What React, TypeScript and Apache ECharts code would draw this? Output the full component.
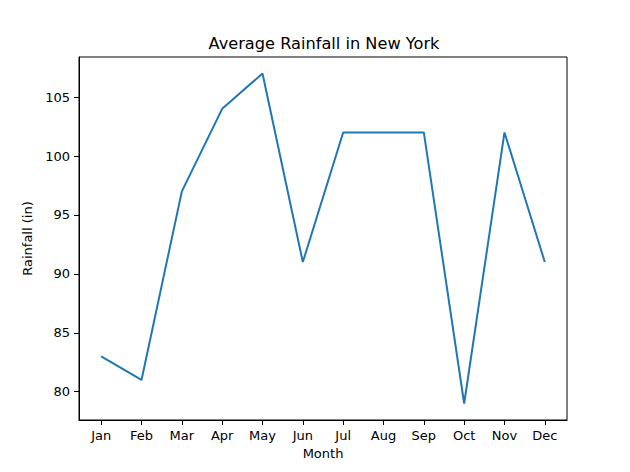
import React, { useEffect, useRef } from "react";
import * as echarts from "echarts";

const months = ["Jan", "Feb", "Mar", "Apr", "May", "Jun", "Jul", "Aug", "Sep", "Oct", "Nov", "Dec"];
const rainfall = [83, 81, 97, 104, 107, 91, 102, 102, 102, 79, 102, 91];
const yTicks = [80, 85, 90, 95, 100, 105];

export default function App() {
  const ref = useRef<HTMLDivElement>(null);
  useEffect(() => {
    const chart = echarts.init(ref.current!, null, { renderer: "svg" });
    const font = "DejaVu Sans";
    const ymin = Math.min(...rainfall);
    const ymax = Math.max(...rainfall);
    const ypad = (ymax - ymin) * 0.05;
    const xpad = (months.length - 1) * 0.05;
    chart.setOption({
      animation: false,
      backgroundColor: "#ffffff",
      textStyle: { fontFamily: font },
      title: {
        text: "Average Rainfall in New York",
        left: 319,
        textAlign: "center",
        top: 30,
        textStyle: { fontFamily: font, fontSize: 16.2, fontWeight: "normal", color: "#000" },
      },
      grid: {
        left: 79,
        right: 63,
        top: 57,
        bottom: 52,
        show: true,
        borderColor: "#000",
        borderWidth: 1,
        backgroundColor: "transparent",
      },
      xAxis: {
        type: "value",
        min: -xpad,
        max: months.length - 1 + xpad,
        name: "Month",
        nameLocation: "middle",
        nameGap: 27,
        nameTextStyle: { fontFamily: font, fontSize: 13, color: "#000" },
        axisLine: { show: true, onZero: false, lineStyle: { color: "#000", width: 1 } },
        axisTick: { show: true, length: 5, inside: false, lineStyle: { color: "#000" }, customValues: months.map((_, i) => i) },
        axisLabel: {
          margin: 9,
          fontFamily: font,
          fontSize: 13,
          color: "#000",
          customValues: months.map((_, i) => i),
          formatter: (v: number) => months[Math.round(v)] ?? "",
        },
        splitLine: { show: false },
      },
      yAxis: {
        type: "value",
        min: ymin - ypad,
        max: ymax + ypad,
        name: "Rainfall (in)",
        nameLocation: "middle",
        nameGap: 37,
        nameTextStyle: { fontFamily: font, fontSize: 13, color: "#000" },
        axisLine: { show: true, onZero: false, lineStyle: { color: "#000", width: 1 } },
        axisTick: { show: true, length: 5, inside: false, lineStyle: { color: "#000" }, customValues: yTicks },
        axisLabel: {
          margin: 9,
          fontFamily: font,
          fontSize: 13,
          color: "#000",
          customValues: yTicks,
        },
        splitLine: { show: false },
      },
      series: [
        {
          type: "line",
          data: rainfall.map((v, i) => [i, v]),
          showSymbol: false,
          symbol: "none",
          lineStyle: { color: "#1f77b4", width: 2 },
        },
      ],
    });
    return () => chart.dispose();
  }, []);
  return <div ref={ref} style={{ width: 630, height: 472, position: "absolute", left: 0, top: 0 }} />;
}
